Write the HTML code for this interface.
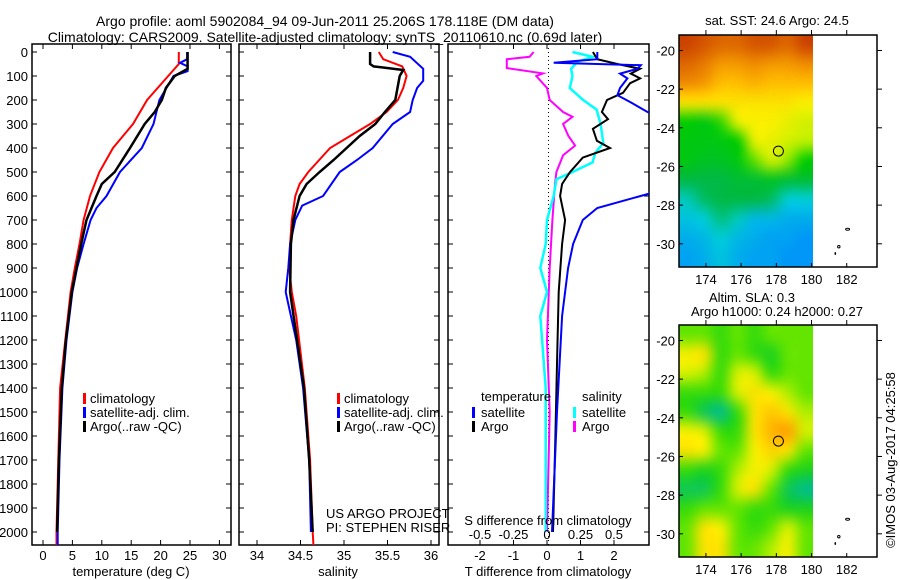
<!DOCTYPE html>
<html><head><meta charset="utf-8">
<style>
html,body{margin:0;padding:0;background:#fff;width:900px;height:580px;overflow:hidden}
#wrap{position:relative;width:900px;height:580px}
canvas{position:absolute}
svg{position:absolute;left:0;top:0}
text{font-family:"Liberation Sans",sans-serif;font-size:13px;fill:#000}
</style></head>
<body>
<div id="wrap">
<canvas id="sst" width="134" height="232" style="left:679px;top:35px"></canvas>
<canvas id="sla" width="134" height="232" style="left:679px;top:325px"></canvas>
<svg id="fig" width="900" height="580"></svg>
</div>
<script>
// ---------- data ----------
const tClimDepth = [0,50,100,200,300,400,500,600,700,800,900,1000,1200,1400,1700,2000,2060];
const tClim      = [23.1,23.1,21.3,17.7,15.3,11.9,9.6,8.0,6.9,6.2,5.4,4.7,3.8,2.9,2.6,2.3,2.3];
const tSatDepth  = [0,30,45,60,80,100,200,300,400,500,600,650,700,800,900,1000,1200,1400,1700,2000,2060];
const tSat       = [24.5,24.5,23.3,24.6,24.6,22.2,19.8,18.8,16.8,13.1,10.8,9.1,8.1,6.9,5.8,5.0,4.0,3.3,2.8,2.5,2.5];
const tArgoDepth = [0,70,100,150,200,250,300,400,500,550,600,700,800,900,1000,1200,1400,1700,2000];
const tArgo      = [24.6,24.6,22.4,20.9,20.2,19.0,17.3,14.8,12.2,10.0,9.1,7.4,6.5,5.7,4.9,3.9,3.2,2.7,2.4];

const sClimDepth = [0,30,60,100,150,200,250,300,350,400,500,550,600,700,800,900,1000,1100,1400,1700,2000,2060];
const sClim      = [35.40,35.45,35.67,35.72,35.68,35.62,35.49,35.30,35.07,34.84,34.59,34.49,34.44,34.40,34.38,34.37,34.40,34.45,34.55,34.61,34.64,34.65];
const sSatDepth  = [0,20,70,120,150,200,250,300,400,450,500,600,640,700,800,900,1000,1050,1200,1400,1700,2000];
const sSat       = [35.56,35.76,35.91,35.91,35.84,35.79,35.76,35.56,35.33,35.15,34.95,34.76,34.52,34.44,34.38,34.36,34.33,34.36,34.45,34.53,34.60,34.62];
const sArgoDepth = [0,50,60,75,100,200,250,300,350,400,450,500,550,600,700,800,1000,1400,1700,2000];
const sArgo      = [35.30,35.30,35.34,35.68,35.64,35.59,35.47,35.36,35.18,35.03,34.88,34.72,34.57,34.49,34.42,34.39,34.38,34.54,34.60,34.64];

const dtArgoDepth = [0,30,50,70,90,110,130,170,200,250,280,320,370,400,440,500,550,600,700,800,900,1000,1300,1600,2000];
const dtArgo      = [1.37,1.5,2.1,2.78,2.5,2.78,2.48,2.27,1.79,1.64,1.82,1.37,1.49,1.88,1.07,0.69,0.45,0.39,0.54,0.45,0.4,0.35,0.3,0.25,0.18];
const dtSatDepth  = [0,30,45,55,70,90,110,150,180,210,250,300,590,650,700,800,900,1000,1100,1500,2000];
const dtSat       = [1.5,1.5,0.2,2.8,2.7,2.18,2.4,2.18,2.1,2.5,3.0,4.0,3.05,1.5,1.07,0.78,0.63,0.54,0.45,0.3,0.15];
const dsArgoDepth = [0,20,30,67,89,100,150,200,250,270,300,350,390,430,500,550,700,900,1200,1500,2000];
const dsArgo      = [-0.10,-0.13,-0.30,-0.30,-0.03,-0.08,0.0,0.02,0.12,0.19,0.12,0.16,0.21,0.12,0.07,0.06,0.04,0.02,0.0,0.02,0.0];
const dsSatDepth  = [0,20,40,70,100,150,200,240,300,380,420,460,500,530,600,700,800,900,1000,1100,1400,2000];
const dsSat       = [0.19,0.34,0.23,0.18,0.19,0.17,0.27,0.37,0.40,0.42,0.36,0.34,0.19,0.07,0.05,0.0,-0.01,-0.05,0.0,-0.05,-0.01,-0.01];

const depthTicks = [0,100,200,300,400,500,600,700,800,900,1000,1100,1200,1300,1400,1500,1600,1700,1800,1900,2000];
const tempTicks = [0,5,10,15,20,25,30];
const salTicks = [34,34.5,35,35.5,36];
const tdTicks = [-2,-1,0,1,2];
const sdTicks = [-0.5,-0.25,0,0.25,0.5];
const latTicks = [20,22,24,26,28,30];
const lonTicks = [174,176,178,180,182];

const sstGrid = [
 [25.9,25.8,25.7,25.7,25.8,25.8,25.7,25.9],
 [25.7,25.6,25.4,25.4,25.5,25.4,25.4,25.5],
 [25.5,25.4,25.1,25.1,25.2,25.1,25.1,25.1],
 [24.8,24.8,24.8,24.8,24.8,24.8,24.8,24.7],
 [24.0,23.9,24.1,24.6,24.7,24.7,24.6,24.5],
 [23.9,23.9,23.9,24.0,24.6,24.6,24.5,24.4],
 [23.9,23.8,23.8,23.9,24.2,24.5,24.3,24.0],
 [23.6,23.6,23.6,23.7,23.7,23.8,23.7,23.7],
 [23.2,23.5,23.6,23.6,23.6,23.5,23.1,23.1],
 [23.0,23.1,23.4,23.2,22.9,22.9,22.8,22.8],
 [22.8,22.9,23.1,22.9,22.8,22.7,22.7,22.6],
 [22.7,22.8,23.0,22.8,22.7,22.7,22.6,22.6]
];
const slaGrid = [
 [0.10,0.10,0.05,0.10,0.05,0.10,0.10,0.10],
 [0.25,0.30,0.05,0.10,0.05,0.00,0.10,0.10],
 [0.20,0.15,0.05,0.20,0.20,0.05,0.10,0.10],
 [0.05,0.05,0.05,0.20,0.30,0.25,0.15,0.10],
 [0.05,-0.05,-0.10,0.05,0.30,0.40,0.30,0.15],
 [0.25,0.20,0.05,0.05,0.30,0.45,0.50,0.20],
 [0.30,0.25,0.10,0.10,0.25,0.35,0.30,0.10],
 [0.05,0.00,0.05,0.15,0.25,0.20,0.05,0.00],
 [-0.05,-0.05,0.05,0.20,0.30,0.10,-0.05,-0.10],
 [0.05,0.10,0.10,0.10,0.05,0.05,0.00,0.00],
 [0.10,0.30,0.25,0.10,0.05,0.10,0.20,0.10],
 [0.10,0.30,0.30,0.10,0.10,0.15,0.25,0.10]
];
const argoLon = [178.118];
const argoLat = [25.206];

// ---------- helpers ----------
const NS='http://www.w3.org/2000/svg';
const svg=document.getElementById('fig');
function el(tag,attrs,parent){const e=document.createElementNS(NS,tag);for(const k in attrs)e.setAttribute(k,attrs[k]);(parent||svg).appendChild(e);return e;}
function txt(x,y,s,anchor,parent,size){const t=el('text',{x:x,y:y,'text-anchor':anchor||'start'},parent);if(size)t.style.fontSize=size+'px';t.textContent=s;return t;}

const Y0=52, PXD=0.24;
const yD=d=>Y0+d*PXD;
const P1={l:32,r:231,t:44,b:545}, P2={l:239,r:439,t:44,b:545}, P3={l:448,r:649,t:44,b:545};
const xT=v=>43+v*5.88;
const xS=v=>257+(v-34)*87;
const xTD=v=>547+v*33.5;
const xSD=v=>547+v*134;

const defs=el('defs',{});
[['c1',P1],['c2',P2],['c3',P3]].forEach(([id,p])=>{const c=el('clipPath',{id:id},defs);el('rect',{x:p.l,y:p.t,width:p.r-p.l,height:p.b-p.t},c);});

function panelFrame(p,name){
  const r=el('rect',{x:p.l,y:p.t,width:p.r-p.l,height:p.b-p.t,fill:'none',stroke:'#000','stroke-width':1.5});
  
  
  depthTicks.forEach(d=>{
    el('line',{x1:p.l,x2:p.l+5,y1:yD(d),y2:yD(d),stroke:'#000'});
    el('line',{x1:p.r-5,x2:p.r,y1:yD(d),y2:yD(d),stroke:'#000'});
  });
}
function xTicks(p,vals,fx,labels,labY){
  vals.forEach((v,i)=>{
    const x=fx(v);
    el('line',{x1:x,x2:x,y1:p.t,y2:p.t+5,stroke:'#000'});
    el('line',{x1:x,x2:x,y1:p.b-5,y2:p.b,stroke:'#000'});
    if(labels){const t=txt(x,labY,String(v),'middle');
      
      }
  });
}
function series(depths,vals,fx,color,w,clip,name){
  const pts=depths.map((d,i)=>fx(vals[i]).toFixed(1)+','+yD(d).toFixed(1)).join(' ');
  const pl=el('polyline',{points:pts,fill:'none',stroke:color,'stroke-width':w,'clip-path':'url(#'+clip+')','stroke-linejoin':'miter'});
  
  
}

let t1=txt(325,26,'Argo profile: aoml 5902084_94 09-Jun-2011 25.206S 178.118E (DM data)','middle',null,14);


let t2=txt(325,42,'Climatology: CARS2009. Satellite-adjusted climatology: synTS_20110610.nc (0.69d later)','middle',null,14);



panelFrame(P1,'temperature-panel');
depthTicks.forEach(d=>{const t=txt(28,yD(d)+5,String(d),'end');
  
  });
xTicks(P1,tempTicks,xT,true,560);
let xt1=txt(131,576,'temperature (deg C)','middle');


series(tClimDepth,tClim,xT,'#f00',2,'c1','temp-climatology-line');
series(tSatDepth,tSat,xT,'#00f',2,'c1','temp-satellite-line');
series(tArgoDepth,tArgo,xT,'#000',2.5,'c1','temp-argo-line');

panelFrame(P2,'salinity-panel');
xTicks(P2,salTicks,xS,true,560);
let xt2=txt(338,576,'salinity','middle');


series(sClimDepth,sClim,xS,'#f00',2,'c2','sal-climatology-line');
series(sSatDepth,sSat,xS,'#00f',2,'c2','sal-satellite-line');
series(sArgoDepth,sArgo,xS,'#000',2.5,'c2','sal-argo-line');

function legend(bx,items,name){
  const g=el('g',{});
  
  
  items.forEach((it,i)=>{const y=398+i*14;
    el('rect',{x:bx,y:y-5,width:3,height:11,fill:it[1]},g);
    txt(bx+7,y+5,it[0],'start',g);});
}
legend(83,[['climatology','#f00'],['satellite-adj. clim.','#00f'],['Argo(..raw -QC)','#000']],'temperature-legend');
legend(337,[['climatology','#f00'],['satellite-adj. clim.','#00f'],['Argo(..raw -QC)','#000']],'salinity-legend');
let us=txt(326,518,'US ARGO PROJECT');
let pi=txt(326,532,'PI: STEPHEN RISER');

panelFrame(P3,'difference-panel');
xTicks(P3,tdTicks,xTD,true,560);
let xt3=txt(548,576,'T difference from climatology','middle');


el('line',{x1:548.5,x2:548.5,y1:P3.t,y2:P3.b,stroke:'#000','stroke-dasharray':'1,3'});
series(dsArgoDepth,dsArgo,xSD,'#f0f',2,'c3','sal-diff-argo-line');
series(dsSatDepth,dsSat,xSD,'#0ff',2.5,'c3','sal-diff-satellite-line');
series(dtArgoDepth,dtArgo,xTD,'#000',2,'c3','temp-diff-argo-line');
series(dtSatDepth,dtSat,xTD,'#00f',2,'c3','temp-diff-satellite-line');
let sdt=txt(548,525,'S difference from climatology','middle');


sdTicks.forEach(v=>{const t=txt(xSD(v),539,String(v),'middle');
  
  });
const lg3=el('g',{});


txt(481,401,'temperature','start',lg3);
txt(582,401,'salinity','start',lg3);
[['satellite','#00f','#0ff'],['Argo','#000','#f0f']].forEach((r,i)=>{const y=412+i*14;
  el('rect',{x:472,y:y-5,width:3,height:11,fill:r[1]},lg3);txt(481,y+5,r[0],'start',lg3);
  el('rect',{x:573,y:y-5,width:3,height:11,fill:r[2]},lg3);txt(582,y+5,r[0],'start',lg3);});

// ---------- maps ----------
const LON0=172.47, LON1=183.72, MX0=679, MX1=877;
const LAT0=19.2, LAT1=31.2;
const lx=v=>MX0+(v-LON0)*(MX1-MX0)/(LON1-LON0);
function lerpC(stops,v){
  if(v<=stops[0][0])return stops[0][1];
  for(let i=1;i<stops.length;i++){if(v<=stops[i][0]){const a=stops[i-1],b=stops[i],f=(v-a[0])/(b[0]-a[0]);
    return a[1].map((c,k)=>Math.round(c+(b[1][k]-c)*f));}}
  return stops[stops.length-1][1];
}
const sstStops=[[22.5,[0,140,255]],[23.1,[0,205,215]],[23.6,[0,185,70]],[24.0,[0,205,0]],[24.4,[190,240,0]],[24.7,[250,240,0]],[25.1,[255,190,0]],[25.5,[240,140,0]],[26.0,[195,50,0]]];
const slaStops=[[-0.1,[0,190,140]],[0.0,[30,210,30]],[0.08,[70,225,0]],[0.16,[190,240,0]],[0.25,[245,240,0]],[0.4,[255,200,0]],[0.5,[255,160,0]]];
function drawMap(id,grid,stops){
  const off=document.createElement('canvas');off.width=8;off.height=12;
  const oc=off.getContext('2d');const img=oc.createImageData(8,12);
  grid.forEach((row,r)=>row.forEach((v,c)=>{const col=lerpC(stops,v);const i=(r*8+c)*4;
    img.data[i]=col[0];img.data[i+1]=col[1];img.data[i+2]=col[2];img.data[i+3]=255;}));
  oc.putImageData(img,0,0);
  const cv=document.getElementById(id);const ctx=cv.getContext('2d');
  ctx.imageSmoothingEnabled=true;ctx.imageSmoothingQuality='high';ctx.drawImage(off,0,0,134,232);
}
drawMap('sst',sstGrid,sstStops);
drawMap('sla',slaGrid,slaStops);

function mapFrame(top,name){
  const bot=top+232;
  const ly=v=>top+(v-LAT0)*(bot-top)/(LAT1-LAT0);
  const r=el('rect',{x:MX0,y:top,width:MX1-MX0,height:232,fill:'none',stroke:'#000','stroke-width':1.5});
  
  
  latTicks.forEach(v=>{const y=ly(v);
    el('line',{x1:MX0,x2:MX0+4,y1:y,y2:y,stroke:'#000'});
    el('line',{x1:MX1,x2:MX1+5,y1:y,y2:y,stroke:'#000'});
    const t=txt(675,y+5,'-'+v,'end');
    
    });
  lonTicks.forEach(v=>{const x=lx(v);
    el('line',{x1:x,x2:x,y1:top-5,y2:top,stroke:'#000'});
    el('line',{x1:x,x2:x,y1:bot-4,y2:bot,stroke:'#000'});
    const t=txt(x,bot+17,String(v),'middle');
    
    });
  el('ellipse',{cx:lx(182.05),cy:ly(29.25),rx:2,ry:1,fill:'none',stroke:'#000'});
  el('ellipse',{cx:lx(181.55),cy:ly(30.15),rx:1.2,ry:1.2,fill:'none',stroke:'#000'});
  el('ellipse',{cx:lx(181.35),cy:ly(30.5),rx:0.8,ry:1.5,fill:'#000'});
  argoLon.forEach((lo,i)=>{const c=el('circle',{cx:lx(lo),cy:ly(argoLat[i]),r:5,fill:'none',stroke:'#000','stroke-width':1});
    
    });
}
mapFrame(35,'sst-map-frame');
mapFrame(325,'sla-map-frame');
let m1=txt(777,25,'sat. SST: 24.6  Argo: 24.5','middle');
let m2=txt(752,302,'Altim. SLA: 0.3','middle');
let m3=txt(777,316,'Argo h1000: 0.24 h2000: 0.27','middle');
let cp=txt(0,0,'©IMOS 03-Aug-2017 04:25:58','middle');
cp.setAttribute('transform','translate(895,460) rotate(-90)');


</script>
</body></html>
